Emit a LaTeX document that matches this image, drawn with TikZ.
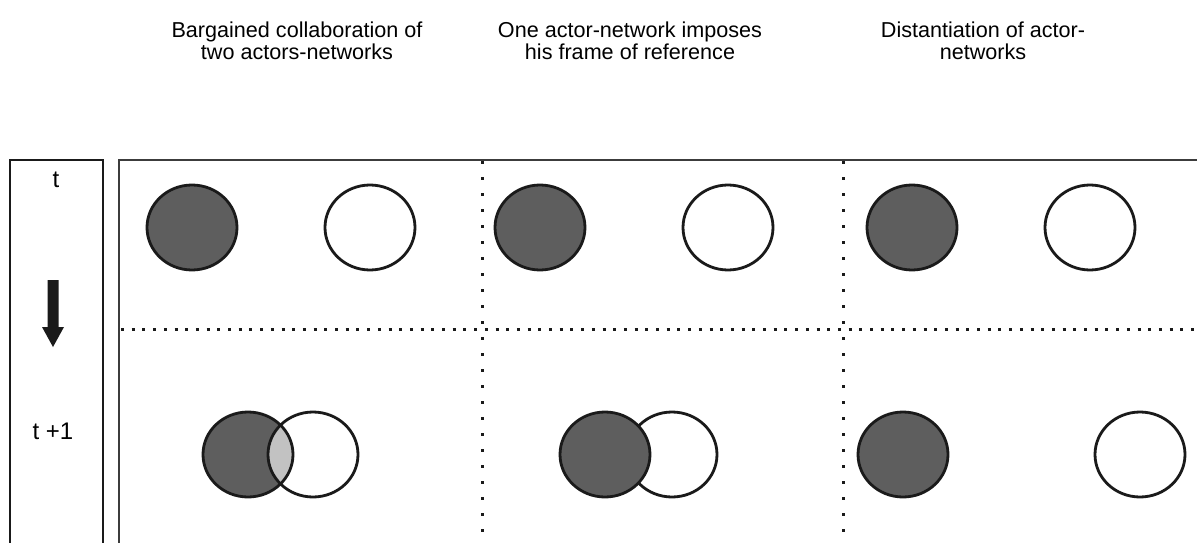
\documentclass[tikz,border=0pt]{standalone}
\usepackage{fontspec}
\setmainfont{Liberation Sans}
\usetikzlibrary{shapes.geometric}
\definecolor{netdark}{RGB}{94,94,94}
\definecolor{netshare}{RGB}{194,194,194}
\definecolor{rim}{RGB}{26,26,26}
\begin{document}
\begin{tikzpicture}[x=1pt,y=-1pt,
  actor/.style={ellipse,inner sep=0pt,minimum width=90pt,minimum height=85pt},
  darknet/.style={actor,draw=rim,line width=2.8pt,fill=netdark},
  lightnet/.style={actor,draw=rim,line width=2.8pt,fill=white},
  header/.style={align=center,font=\fontsize{21.6}{22.5}\selectfont},
  timelabel/.style={font=\fontsize{24}{26}\selectfont},
  vdots/.style={line width=3pt,dash pattern=on 3pt off 13pt,color=rim},
  hdots/.style={line width=3pt,dash pattern=on 3pt off 7.7pt,color=rim},
  frame/.style={line width=2.5pt,color=rim}]
\useasboundingbox (0,0) rectangle (1197,543);

% column headings
\node[header] (h1) at (297,41) {Bargained collaboration of\\two actors-networks};
\node[header] (h2) at (630,41) {One actor-network imposes\\his frame of reference};
\node[header] (h3) at (983,41) {Distantiation of actor-\\networks};

% time column
\draw[frame] (10,545) -- (10,160) -- (103,160) -- (103,545);
\node[timelabel] (t0) at (56,180) {t};
\node[timelabel] (t1) at (53,431) {t +1};
\coordinate (arrtip) at (53,347);
\fill[rim] (47.5,280) -- (58.5,280) -- (58.5,327) -- (64,327) -- (arrtip) -- (42,327) -- (47.5,327) -- cycle;

% main grid
\draw[frame,color=rim!85] (119,545) -- (119,160) -- (1199,160);
\draw[vdots] (482,161) -- (482,545);
\draw[vdots] (843,161) -- (843,545);
\draw[hdots] (121,329) -- (1199,329);

% time t
\node[darknet]  (a1) at (192,227.5) {};
\node[lightnet] (b1) at (370,227.5) {};
\node[darknet]  (a2) at (540,227.5) {};
\node[lightnet] (b2) at (728,227.5) {};
\node[darknet]  (a3) at (912,227.5) {};
\node[lightnet] (b3) at (1090,227.5) {};

% time t+1: overlapping frames
\node[actor,fill=white] (d1) at (313,454.5) {};
\node[actor,fill=netdark] (c1) at (248,454.5) {};
\begin{scope}
  \clip (c1.center) ellipse [x radius=45pt,y radius=42.5pt];
  \fill[netshare] (d1.center) ellipse [x radius=45pt,y radius=42.5pt];
\end{scope}
\draw[rim,line width=2.8pt] (c1.center) ellipse [x radius=45pt,y radius=42.5pt];
\draw[rim,line width=2.8pt] (d1.center) ellipse [x radius=45pt,y radius=42.5pt];

% imposed frame
\node[lightnet] (d2) at (672,454.5) {};
\node[darknet]  (c2) at (605,454.5) {};

% distantiation
\node[darknet]  (c3) at (903,454.5) {};
\node[lightnet] (d3) at (1140,454.5) {};
\end{tikzpicture}
\end{document}
